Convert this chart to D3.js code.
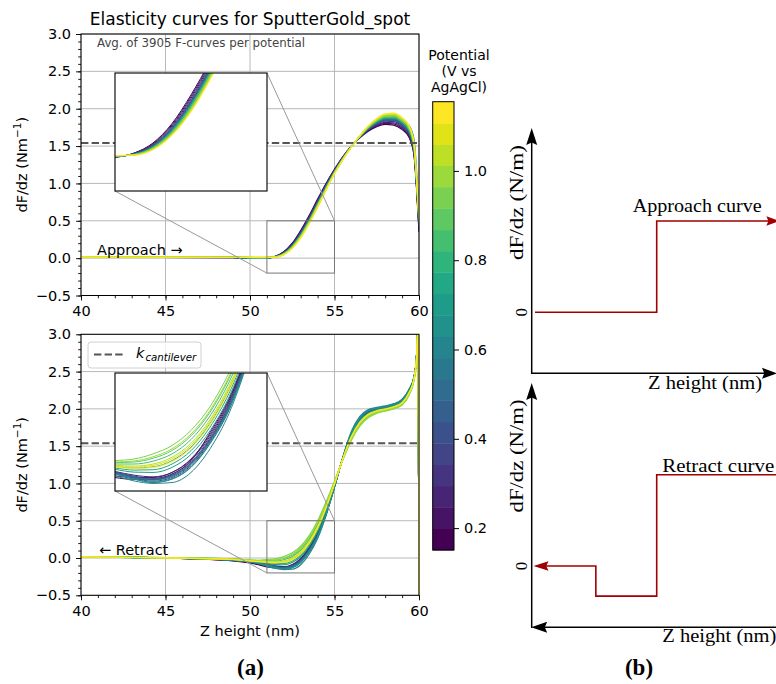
<!DOCTYPE html>
<html><head><meta charset="utf-8">
<script src="https://cdn.jsdelivr.net/npm/d3@7"></script>
<style>
body{margin:0;background:#fff}
svg{display:block}
text{font-family:"DejaVu Sans",sans-serif}
.serif{font-family:"Liberation Serif","Times New Roman",serif}
</style>
</head><body>
<svg id="c" width="776" height="684"></svg>
<script>
// ---------------- DATA ----------------
const potentials = [0.175,0.223,0.271,0.318,0.366,0.414,0.462,0.510,0.557,0.605,0.653,0.701,0.749,0.797,0.844,0.892,0.940,0.988,1.036,1.083,1.131];
const cbRange = [0.151, 1.155];
const cbTicks = [0.2,0.4,0.6,0.8,1.0];
const xTicks = [40,45,50,55,60];
const yTicks = [-0.5,0,0.5,1,1.5,2,2.5,3];
const kCantilever = 1.54;
const zoomX = [51,55];
const zoomY = [-0.2,0.5];

const zApproach = [40,49,50.5,51,51.5,52,52.5,53,53.5,54,54.5,55,55.5,56,56.5,57,57.5,58,58.5,59,59.4,59.7,59.85,60];
const approach = [
[.012,.008,-.005,0,.025,.085,.20,.37,.57,.79,1.00,1.19,1.36,1.50,1.61,1.70,1.76,1.79,1.78,1.72,1.62,1.38,.95,.35],
[.012,.008,-.004,.001,.024,.081,.193,.36,.559,.779,.991,1.184,1.356,1.499,1.613,1.707,1.771,1.804,1.796,1.736,1.636,1.397,.965,.37],
[.012,.009,-.002,.002,.022,.077,.186,.35,.548,.768,.982,1.178,1.352,1.498,1.616,1.714,1.782,1.818,1.812,1.752,1.652,1.414,.98,.39],
[.013,.009,0,.003,.021,.073,.179,.34,.537,.757,.973,1.172,1.348,1.497,1.619,1.721,1.793,1.832,1.828,1.768,1.668,1.431,.995,.41],
[.013,.010,.001,.004,.020,.069,.172,.33,.526,.746,.964,1.166,1.344,1.496,1.622,1.728,1.804,1.846,1.844,1.784,1.684,1.448,1.01,.43],
[.014,.010,.002,.005,.019,.067,.169,.325,.52,.74,.96,1.163,1.342,1.496,1.624,1.732,1.81,1.853,1.852,1.792,1.692,1.457,1.018,.44],
[.013,.010,.001,.004,.020,.070,.173,.332,.528,.748,.966,1.167,1.345,1.496,1.621,1.727,1.802,1.843,1.841,1.781,1.681,1.445,1.007,.426],
[.015,.010,.003,.006,.018,.063,.162,.315,.51,.73,.95,1.157,1.338,1.495,1.627,1.739,1.82,1.867,1.868,1.808,1.708,1.474,1.033,.46],
[.014,.010,.003,.005,.019,.065,.165,.32,.515,.735,.955,1.16,1.34,1.495,1.625,1.735,1.815,1.86,1.86,1.8,1.7,1.465,1.025,.45],
[.016,.011,.004,.006,.017,.06,.157,.308,.502,.722,.944,1.153,1.335,1.494,1.629,1.743,1.828,1.877,1.879,1.819,1.719,1.485,1.043,.474],
[.016,.011,.004,.006,.017,.062,.159,.312,.506,.726,.948,1.155,1.337,1.494,1.627,1.741,1.824,1.871,1.873,1.84,1.78,1.60,1.20,.55],
[.017,.011,.005,.007,.016,.059,.154,.304,.497,.717,.941,1.15,1.334,1.493,1.63,1.746,1.833,1.882,1.886,1.826,1.726,1.492,1.049,.482],
[.017,.011,.006,.007,.016,.057,.151,.30,.493,.713,.937,1.148,1.332,1.493,1.631,1.749,1.837,1.888,1.892,1.832,1.732,1.499,1.055,.49],
[.018,.012,.006,.008,.015,.055,.148,.295,.488,.708,.933,1.145,1.33,1.493,1.633,1.753,1.843,1.895,1.90,1.84,1.74,1.508,1.063,.50],
[.018,.012,.005,.006,.017,.059,.155,.306,.50,.72,.942,1.152,1.334,1.494,1.629,1.745,1.83,1.88,1.882,1.822,1.722,1.489,1.046,.478],
[.018,.012,.007,.008,.015,.053,.144,.29,.482,.702,.928,1.142,1.328,1.492,1.634,1.756,1.848,1.902,1.908,1.848,1.748,1.516,1.07,.51],
[.017,.012,.008,.009,.014,.051,.14,.284,.475,.695,.923,1.138,1.326,1.491,1.636,1.76,1.855,1.91,1.918,1.858,1.758,1.526,1.079,.522],
[.016,.012,.007,.008,.015,.054,.145,.292,.484,.704,.93,1.143,1.329,1.492,1.633,1.755,1.846,1.899,1.905,1.845,1.745,1.513,1.067,.506],
[.015,.012,.009,.009,.013,.049,.137,.28,.471,.691,.919,1.136,1.324,1.491,1.637,1.763,1.859,1.916,1.924,1.864,1.764,1.533,1.085,.53],
[.014,.012,.009,.01,.013,.047,.134,.275,.466,.686,.915,1.133,1.322,1.49,1.638,1.767,1.865,1.923,1.932,1.872,1.772,1.542,1.093,.54],
[.013,.012,.01,.01,.012,.045,.13,.27,.46,.68,.91,1.13,1.32,1.49,1.64,1.77,1.87,1.93,1.94,1.88,1.78,1.55,1.10,.55]
];

const zRetract = [40,45,49,50.5,51,51.5,52,52.5,53,53.5,54,54.5,55,55.5,56,56.5,57,57.5,58,58.5,59,59.4,59.7,59.85,59.95,60];
const retract = [
[.015,.002,-.04,-.09,-.12,-.13,-.13,-.10,-.02,.146,.346,.631,.974,1.341,1.65,1.847,1.95,1.989,2.012,2.042,2.099,2.229,2.408,2.685,3.17,-1],
[.015,.001,-.035,-.08,-.11,-.12,-.12,-.09,-.01,.135,.335,.623,.97,1.343,1.655,1.853,1.955,1.993,2.015,2.045,2.103,2.233,2.41,2.688,3.175,-1],
[.015,.001,-.026,-.062,-.084,-.106,-.116,-.09,-.016,.124,.324,.614,.966,1.344,1.66,1.858,1.96,1.996,2.018,2.048,2.106,2.236,2.412,2.69,3.18,-1],
[.015,.001,-.027,-.064,-.088,-.112,-.125,-.10,-.027,.113,.313,.606,.962,1.346,1.665,1.864,1.965,2.0,2.021,2.051,2.11,2.24,2.414,2.692,3.185,-1],
[.015,0,-.028,-.066,-.092,-.118,-.133,-.11,-.038,.102,.302,.597,.958,1.347,1.67,1.869,1.97,2.003,2.024,2.054,2.113,2.243,2.416,2.695,3.19,-1],
[.015,0,-.029,-.068,-.096,-.124,-.142,-.12,-.049,.091,.291,.589,.954,1.349,1.675,1.875,1.975,2.007,2.027,2.057,2.117,2.247,2.418,2.698,3.195,-1],
[.015,.001,-.028,-.065,-.09,-.116,-.13,-.106,-.034,.106,.306,.60,.96,1.346,1.668,1.867,1.968,2.002,2.023,2.053,2.112,2.242,2.415,2.694,3.188,-1],
[.015,0,-.03,-.07,-.10,-.13,-.15,-.13,-.06,.08,.28,.58,.95,1.35,1.68,1.88,1.98,2.01,2.03,2.06,2.12,2.25,2.42,2.70,3.20,-1],
[.015,0,-.028,-.067,-.094,-.12,-.136,-.114,-.042,.098,.298,.594,.956,1.348,1.672,1.871,1.972,2.004,2.025,2.055,2.114,2.244,2.417,2.696,3.192,-1],
[.015,0,-.03,-.075,-.11,-.14,-.155,-.15,-.09,.05,.26,.57,.95,1.36,1.70,1.90,1.99,2.02,2.04,2.07,2.13,2.26,2.43,2.71,3.21,-1],
[.015,0,-.03,-.069,-.098,-.128,-.147,-.126,-.056,.084,.284,.583,.952,1.349,1.678,1.878,1.978,2.009,2.029,2.059,2.119,2.249,2.419,2.699,3.198,-1],
[.015,.002,-.023,-.056,-.072,-.088,-.09,-.06,.017,.157,.357,.64,.978,1.34,1.645,1.842,1.945,1.986,2.009,2.039,2.096,2.226,2.406,2.683,3.165,-1],
[.015,.002,-.021,-.052,-.064,-.076,-.074,-.04,.039,.179,.379,.657,.986,1.337,1.635,1.83,1.935,1.979,2.003,2.033,2.089,2.219,2.402,2.678,3.155,-1],
[.015,.003,-.019,-.048,-.056,-.064,-.057,-.02,.061,.201,.401,.674,.994,1.334,1.625,1.82,1.925,1.972,1.997,2.027,2.082,2.212,2.398,2.673,3.145,-1],
[.015,.004,-.015,-.04,-.04,-.04,-.023,.02,.105,.245,.445,.708,1.01,1.328,1.605,1.798,1.905,1.958,1.985,2.015,2.068,2.198,2.39,2.663,3.125,-1],
[.015,.004,-.013,-.036,-.032,-.028,-.006,.04,.127,.267,.467,.725,1.018,1.325,1.595,1.787,1.895,1.951,1.979,2.009,2.061,2.191,2.386,2.658,3.115,-1],
[.015,.005,-.01,-.03,-.02,-.01,.02,.07,.16,.30,.50,.75,1.03,1.32,1.58,1.77,1.88,1.94,1.97,2.00,2.05,2.18,2.38,2.65,3.10,-1],
[.015,.005,-.012,-.034,-.028,-.022,.003,.05,.138,.278,.478,.733,1.022,1.323,1.59,1.781,1.89,1.947,1.976,2.006,2.057,2.187,2.384,2.655,3.11,-1],
[.015,.003,-.017,-.044,-.048,-.052,-.04,0,.083,.223,.423,.691,1.002,1.331,1.615,1.809,1.915,1.965,1.991,2.021,2.075,2.205,2.394,2.668,3.135,-1],
[.015,.003,-.018,-.046,-.052,-.058,-.048,-.01,.072,.212,.412,.682,.998,1.332,1.62,1.814,1.92,1.968,1.994,2.024,2.078,2.208,2.396,2.67,3.14,-1],
[.015,.003,-.02,-.05,-.058,-.066,-.06,-.025,.055,.195,.395,.67,.993,1.336,1.628,1.822,1.927,1.973,1.998,2.028,2.083,2.213,2.399,2.674,3.148,-1]
];

// schematic (b): step shapes in arbitrary units
const schemApproachX = [0, 0.5, 0.5, 1];
const schemApproachY = [0, 0, 1, 1];
const schemRetractX = [1, 0.5, 0.5, 0.25, 0.25, 0];
const schemRetractY = [1, 1, -0.33, -0.33, 0, 0];

// ---------------- DRAW ----------------
const svg = d3.select("#c");
const defs = svg.append("defs");
const color = d3.scaleSequential(d3.interpolateViridis).domain([potentials[0], potentials[potentials.length-1]]);
const x = d3.scaleLinear().domain([40,60]).range([81,419]);
const fmt = d3.format(".1f");

function drawPanel(yTop, yBot, zs, rows, ins, clipId) {
  const y = d3.scaleLinear().domain([-0.5,3]).range([yBot,yTop]);
  const g = svg.append("g");
  defs.append("clipPath").attr("id",clipId).append("rect")
    .attr("x",x(40)).attr("y",yTop).attr("width",x(60)-x(40)).attr("height",yBot-yTop);
  g.append("g").selectAll("line").data(xTicks).join("line")
    .attr("x1",d=>x(d)).attr("x2",d=>x(d)).attr("y1",yTop).attr("y2",yBot)
    .attr("stroke","#b0b0b0").attr("stroke-width",0.9);
  g.append("g").selectAll("line").data(yTicks).join("line")
    .attr("x1",x(40)).attr("x2",x(60)).attr("y1",d=>y(d)).attr("y2",d=>y(d))
    .attr("stroke","#b0b0b0").attr("stroke-width",0.9);
  const line = d3.line().x(d=>x(d[0])).y(d=>y(d[1])).curve(d3.curveMonotoneX);
  g.append("g").attr("clip-path",`url(#${clipId})`).selectAll("path").data(rows).join("path")
    .attr("d",r=>line(r.map((v,j)=>[zs[j],v])))
    .attr("fill","none").attr("stroke",(r,i)=>color(potentials[i])).attr("stroke-width",1.2);
  g.append("line").attr("x1",x(40)).attr("x2",x(60)).attr("y1",y(kCantilever)).attr("y2",y(kCantilever))
    .attr("stroke","#555").attr("stroke-width",2).attr("stroke-dasharray","7.4,3.2");
  g.append("rect").attr("x",x(zoomX[0])).attr("y",y(zoomY[1]))
    .attr("width",x(zoomX[1])-x(zoomX[0])).attr("height",y(zoomY[0])-y(zoomY[1]))
    .attr("fill","none").attr("stroke","#777").attr("stroke-width",1);
  g.append("line").attr("x1",ins.x1).attr("y1",ins.y0).attr("x2",x(zoomX[1])).attr("y2",y(zoomY[1]))
    .attr("stroke","#999").attr("stroke-width",1);
  g.append("line").attr("x1",ins.x0).attr("y1",ins.y1).attr("x2",x(zoomX[0])).attr("y2",y(zoomY[0]))
    .attr("stroke","#999").attr("stroke-width",1);
  const ax = g.append("g").attr("transform",`translate(0,${yBot})`);
  ax.call(d3.axisBottom(x).tickValues(d3.range(40,61,1)).tickSize(2.8).tickFormat(""));
  ax.append("g").call(d3.axisBottom(x).tickValues(xTicks).tickSize(5).tickPadding(5).tickFormat(d3.format("d")));
  const ay = g.append("g").attr("transform",`translate(${x(40)},0)`);
  ay.call(d3.axisLeft(y).tickValues(d3.range(-5,31,1).map(v=>v/10)).tickSize(2.8).tickFormat(""));
  ay.append("g").call(d3.axisLeft(y).tickValues(yTicks).tickSize(5).tickPadding(5).tickFormat(fmt));
  g.selectAll(".domain").remove();
  g.selectAll(".tick text").attr("font-size",14.5).attr("fill","#000").attr("font-family","DejaVu Sans");
  g.selectAll(".tick line").attr("stroke","#000").attr("stroke-width",0.9);
  g.append("rect").attr("x",x(40)).attr("y",yTop).attr("width",x(60)-x(40)).attr("height",yBot-yTop)
    .attr("fill","none").attr("stroke","#000").attr("stroke-width",1);
  g.append("text").attr("transform",`translate(27,${(yTop+yBot)/2}) rotate(-90)`)
    .attr("text-anchor","middle").attr("font-size",14.5)
    .call(t=>{t.append("tspan").text("dF/dz (Nm");
      t.append("tspan").attr("dy",-6).attr("font-size",10.5).text("−1");
      t.append("tspan").attr("dy",6).text(")");});
  const ix = d3.scaleLinear().domain(zoomX).range([ins.x0, ins.x1]);
  const iy = d3.scaleLinear().domain(zoomY).range([ins.y1, ins.y0]);
  const cid = clipId + "i";
  defs.append("clipPath").attr("id",cid).append("rect")
    .attr("x",ins.x0).attr("y",ins.y0).attr("width",ins.x1-ins.x0).attr("height",ins.y1-ins.y0);
  g.append("rect").attr("x",ins.x0).attr("y",ins.y0).attr("width",ins.x1-ins.x0).attr("height",ins.y1-ins.y0)
    .attr("fill","#fff");
  const iline = d3.line().x(d=>ix(d[0])).y(d=>iy(d[1])).curve(d3.curveMonotoneX);
  g.append("g").attr("clip-path",`url(#${cid})`).selectAll("path").data(rows).join("path")
    .attr("d",r=>iline(r.map((v,j)=>[zs[j],v])))
    .attr("fill","none").attr("stroke",(r,i)=>color(potentials[i])).attr("stroke-width",1);
  g.append("rect").attr("x",ins.x0).attr("y",ins.y0).attr("width",ins.x1-ins.x0).attr("height",ins.y1-ins.y0)
    .attr("fill","none").attr("stroke","#111").attr("stroke-width",1.2);
  return {g,y};
}

const panelTop = drawPanel(34, 295.5, zApproach, approach, {x0:115,x1:267,y0:73,y1:191}, "clipTop");
const panelBot = drawPanel(334.3, 595.3, zRetract, retract, {x0:115,x1:267,y0:373,y1:491}, "clipBot");

svg.append("text").attr("x",250).attr("y",25).attr("text-anchor","middle").attr("font-size",17)
  .text("Elasticity curves for SputterGold_spot");
svg.append("text").attr("x",97).attr("y",47).attr("font-size",11.8).attr("fill","#444")
  .text("Avg. of 3905 F-curves per potential");
svg.append("text").attr("x",97).attr("y",255).attr("font-size",14.5).text("Approach  →");
svg.append("text").attr("x",99).attr("y",555).attr("font-size",14.5).text("←  Retract");
svg.append("text").attr("x",250).attr("y",636).attr("text-anchor","middle").attr("font-size",14.5).text("Z height (nm)");

const lg = svg.append("g");
lg.append("rect").attr("x",88).attr("y",342).attr("width",113).attr("height",26).attr("rx",3)
  .attr("fill","#fff").attr("fill-opacity",0.8).attr("stroke","#d0d0d0").attr("stroke-width",1);
lg.append("line").attr("x1",94).attr("x2",124).attr("y1",354.5).attr("y2",354.5)
  .attr("stroke","#555").attr("stroke-width",2).attr("stroke-dasharray","7.4,3.2");
lg.append("text").attr("x",136).attr("y",358).attr("font-size",14.5).attr("font-style","italic")
  .call(t=>{t.append("tspan").text("k");
    t.append("tspan").attr("dy",3).attr("dx",1).attr("font-size",10.2).text("cantilever");});

const yCb = d3.scaleLinear().domain(cbRange).range([550,101.7]);
const step = (potentials[potentials.length-1]-potentials[0])/(potentials.length-1);
const cb = svg.append("g");
cb.selectAll("rect").data(potentials).join("rect")
  .attr("x",432.7).attr("width",21.3)
  .attr("y",p=>yCb(p+step/2)).attr("height",p=>yCb(p-step/2)-yCb(p+step/2)+0.5)
  .attr("fill",p=>color(p));
cb.append("rect").attr("x",432.7).attr("y",yCb(cbRange[1])).attr("width",21.3).attr("height",yCb(cbRange[0])-yCb(cbRange[1]))
  .attr("fill","none").attr("stroke","#000").attr("stroke-width",1);
const cbAx = svg.append("g").attr("transform","translate(454,0)")
  .call(d3.axisRight(yCb).tickValues(cbTicks).tickSize(5).tickPadding(5).tickFormat(fmt));
cbAx.select(".domain").remove();
cbAx.selectAll(".tick text").attr("font-size",14.5).attr("font-family","DejaVu Sans").attr("fill","#000");
cbAx.selectAll(".tick line").attr("stroke","#000");
[["Potential",60],["(V vs",76],["AgAgCl)",92]].forEach(([s,yy])=>
  svg.append("text").attr("x",459).attr("y",yy).attr("text-anchor","middle").attr("font-size",14).text(s));

// ---------------- panel (b) ----------------
const red = "#a00000";
function arrowHead(g, tx, ty, dir, len, hw, fill) {
  const [dx,dy] = dir, bx = tx-dx*len, by = ty-dy*len;
  const px = -dy, py = dx;
  g.append("path").attr("d",`M${tx},${ty}L${bx+px*hw},${by+py*hw}L${bx+dx*len*0.15},${by+dy*len*0.15}L${bx-px*hw},${by-py*hw}Z`).attr("fill",fill);
}
const sx = d3.scaleLinear().domain([0,1]).range([535,656.7*2-535]);
const b = svg.append("g");
const syA = d3.scaleLinear().domain([0,1]).range([312.3,221]);
b.append("line").attr("x1",531.7).attr("x2",531.7).attr("y1",374).attr("y2",140).attr("stroke","#000").attr("stroke-width",1.5);
b.append("line").attr("x1",531).attr("x2",766).attr("y1",373.3).attr("y2",373.3).attr("stroke","#000").attr("stroke-width",1.5);
arrowHead(b,531.7,128,[0,-1],17,5.5,"#000");
arrowHead(b,777,373.3,[1,0],15,5.5,"#000");
const stepLine = d3.line().x(d=>d[0]).y(d=>d[1]);
b.append("path").attr("d",stepLine(schemApproachX.map((v,i)=>[sx(v),syA(schemApproachY[i])]).map((p,i,a)=>i===a.length-1?[p[0]-8,p[1]]:p)))
  .attr("fill","none").attr("stroke",red).attr("stroke-width",1.6);
arrowHead(b,sx(1)+1,syA(1),[1,0],13,4.8,red);
const syR = d3.scaleLinear().domain([0,1]).range([566,474.7]);
b.append("line").attr("x1",531.7).attr("x2",531.7).attr("y1",628).attr("y2",395).attr("stroke","#000").attr("stroke-width",1.5);
b.append("line").attr("x1",540).attr("x2",790).attr("y1",627.3).attr("y2",627.3).attr("stroke","#000").attr("stroke-width",1.5);
arrowHead(b,531.7,383,[0,-1],17,5.5,"#000");
arrowHead(b,531.2,627.3,[-1,0],16,5.5,"#000");
b.append("path").attr("d",stepLine(schemRetractX.map((v,i)=>[v===1?790:sx(v),syR(schemRetractY[i])]).map((p,i,a)=>i===a.length-1?[p[0]+10,p[1]]:p)))
  .attr("fill","none").attr("stroke",red).attr("stroke-width",1.6);
arrowHead(b,sx(0)-1.5,syR(0),[-1,0],15,4.8,red);

function stext(xx,yy,s,len,size,rot){
  const t = b.append("text").attr("class","serif").attr("font-size",size).text(s);
  if(rot){ t.attr("transform",`translate(${xx},${yy}) rotate(-90)`).attr("text-anchor","middle"); }
  else { t.attr("x",xx).attr("y",yy); }
  if(len) t.attr("textLength",len).attr("lengthAdjust","spacingAndGlyphs");
  return t;
}
stext(632.7,211.5,"Approach curve",129,19);
stext(648,389,"Z height (nm)",114,19);
stext(662.3,471.5,"Retract curve",112,19);
stext(662.3,642,"Z height (nm)",114,19);
stext(523,202.5,"dF/dz (N/m)",115,19,true);
stext(523,456,"dF/dz (N/m)",113,19,true);
stext(527,312.3,"0",null,17,true);
stext(527,566,"0",null,17,true);
svg.append("text").attr("class","serif").attr("x",250.5).attr("y",675).attr("text-anchor","middle")
  .attr("font-size",23).attr("font-weight","bold").text("(a)");
svg.append("text").attr("class","serif").attr("x",639).attr("y",675).attr("text-anchor","middle")
  .attr("font-size",23).attr("font-weight","bold").text("(b)");
</script>
</body></html>
